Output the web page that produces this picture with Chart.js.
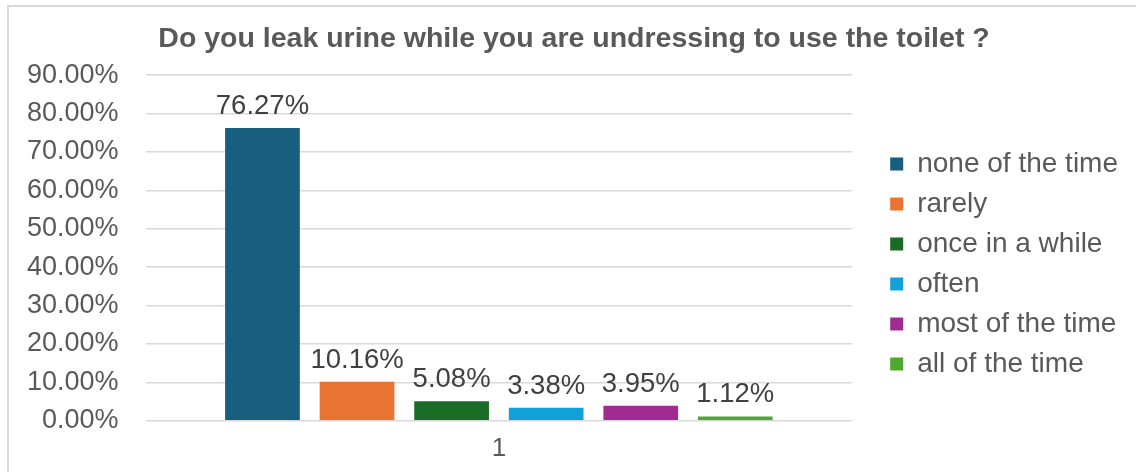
<!DOCTYPE html>
<html>
<head>
<meta charset="utf-8">
<script src="https://cdn.jsdelivr.net/npm/chart.js@4.4.1/dist/chart.umd.min.js"></script>
<style>
  html, body { margin: 0; padding: 0; background: #fff; overflow: hidden; }
  .frame {
    position: absolute; left: 7px; top: 5px; width: 1140px; height: 480px;
    border-left: 2px solid #d9d9d9; border-top: 2px solid #d9d9d9;
  }
  .chart { position: absolute; left: 0; top: 0; width: 1136px; height: 472px; }
</style>
</head>
<body>
<div class="frame"></div>
<div class="chart"><canvas id="leak_chart"></canvas></div>
<script>
var categories = ['1'];
var answers = ['none of the time', 'rarely', 'once in a while', 'often', 'most of the time', 'all of the time'];
var percents = [76.27, 10.16, 5.08, 3.38, 3.95, 1.12];
var colors = ['#175e7f', '#e97431', '#1b6b26', '#11a0d8', '#a02b93', '#4ea72e'];
var yTicks = [0, 10, 20, 30, 40, 50, 60, 70, 80, 90];

var textColor = '#595959';
var fontFamily = '"Liberation Sans", Arial, sans-serif';

// value labels drawn above every bar
var valueLabels = {
    id: 'valueLabels',
    afterDatasetsDraw(chart) {
        let ctx = chart.ctx;
        ctx.save();
        ctx.font = '27.5px ' + fontFamily;
        ctx.fillStyle = '#404040';
        ctx.textAlign = 'center';
        ctx.textBaseline = 'alphabetic';
        chart.data.datasets.forEach((ds, i) => {
            chart.getDatasetMeta(i).data.forEach((bar, j) => {
                ctx.fillText(ds.data[j].toFixed(2) + '%', bar.x, bar.y - 14);
            });
        });
        ctx.restore();
    }
};

// push the legend away from the plot and a bit lower, nudge the title right
var legendGap = 26, legendDrop = 26, titleShift = 10;
var boxOffsets = {
    id: 'boxOffsets',
    afterInit(chart) {
        let lg = chart.legend;
        let fit = lg.fit, draw = lg.draw;
        lg.fit = function () { fit.call(this); this.width += legendGap; };
        lg.draw = function () {
            this.left += legendGap; this.top += legendDrop; this.bottom += legendDrop;
            draw.call(this);
            this.left -= legendGap; this.top -= legendDrop; this.bottom -= legendDrop;
        };
        let tb = chart.titleBlock;
        let drawTitle = tb.draw;
        tb.draw = function () {
            this.left += titleShift; this.right += titleShift;
            drawTitle.call(this);
            this.left -= titleShift; this.right -= titleShift;
        };
    }
};

var chart = new Chart('leak_chart', {
    type: 'bar',
    data: {
        labels: categories,
        datasets: answers.map((name, i) => ({
            label: name,
            data: [percents[i]],
            backgroundColor: colors[i],
            borderWidth: 0,
            categoryPercentage: 0.803,
            barPercentage: 0.79
        }))
    },
    plugins: [valueLabels, boxOffsets],
    options: {
        responsive: true,
        maintainAspectRatio: false,
        animation: false,
        layout: { padding: { left: 0, right: 8, top: 8, bottom: 4 } },
        plugins: {
            title: {
                display: true,
                text: 'Do you leak urine while you are undressing to use the toilet ?',
                color: textColor,
                font: { family: fontFamily, size: 28.5, weight: 'bold' },
                padding: { top: 14, bottom: 19 }
            },
            legend: {
                position: 'right',
                labels: {
                    color: textColor,
                    font: { family: fontFamily, size: 28 },
                    boxWidth: 13,
                    boxHeight: 13,
                    padding: 12
                }
            },
            tooltip: { enabled: false }
        },
        scales: {
            x: {
                grid: { display: false },
                border: { display: false },
                ticks: { color: textColor, font: { family: fontFamily, size: 26 }, padding: 4 }
            },
            y: {
                min: 0,
                max: 90,
                afterBuildTicks: axis => { axis.ticks = yTicks.map(v => ({ value: v })); },
                grid: { color: '#d9d9d9', lineWidth: 1.5, drawTicks: false },
                border: { display: false },
                ticks: {
                    color: textColor,
                    font: { family: fontFamily, size: 27 },
                    padding: 27,
                    callback: v => v.toFixed(2) + '%'
                }
            }
        }
    }
});
</script>
</body>
</html>
